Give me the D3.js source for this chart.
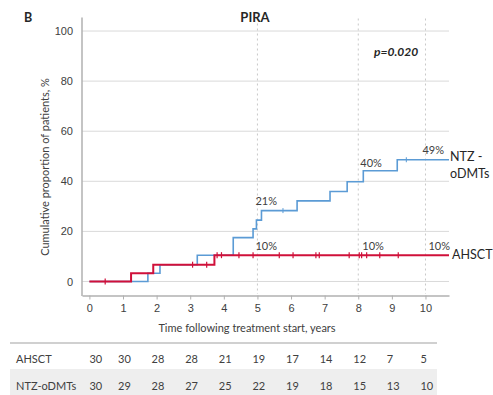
<!DOCTYPE html>
<html><head><meta charset="utf-8">
<script src="https://cdn.jsdelivr.net/npm/d3@7"></script>
<style>
body{margin:0;background:#fff;}
svg{display:block;font-family:Lato,"Open Sans",sans-serif;}
</style></head>
<body><svg id="c" width="493" height="395"></svg>
<script>
// ---- data ----
const yTicks = [0, 20, 40, 60, 80, 100];
const xTicks = [0,1,2,3,4,5,6,7,8,9,10];
const refYears = [5, 8, 10];
const ahsctTimes = [0, 1.24, 1.9, 3.72];
const ahsctValues = [0, 3.3, 6.7, 10.5];
const ahsctCensor = [0.47, 3.07, 3.49, 3.8, 3.93, 4.45, 4.87, 5.65, 6.06, 6.74, 6.84, 7.73, 8.03, 8.1, 8.25, 8.64, 9.19];
const ntzTimes = [0, 1.74, 2.1, 3.21, 4.28, 4.87, 4.97, 5.12, 6.18, 7.16, 7.67, 8.15, 9.16];
const ntzValues = [0, 3.3, 6.7, 10.5, 17.5, 21, 24.5, 28.3, 32.2, 35.9, 39.8, 44.2, 48.6];
const ntzCensor = [5.76, 9.43];
const ntzLabels = [{t:5, v:21, text:"21%"}, {t:8, v:40, text:"40%"}, {t:10, v:49, text:"49%"}];
const ahsctLabels = [{t:5, v:10, text:"10%"}, {t:8, v:10, text:"10%"}, {t:10, v:10, text:"10%"}];
const riskYears = [0,1,2,3,4,5,6,7,8,9,10];
const riskAHSCT = [30, 30, 28, 28, 21, 19, 17, 14, 12, 7, 5];
const riskNTZ = [30, 29, 28, 27, 25, 22, 19, 18, 15, 13, 10];
const tMax = 10.7;

// ---- chart ----
const svg = d3.select("#c");
const x = d3.scaleLinear().domain([-0.22, 10.7]).range([82, 449]);
const y = d3.scaleLinear().domain([-5, 105]).range([294, 18.5]);
const blue = "#5b9bd5", red = "#d0103a", txt = "#404040";

// gridlines
svg.append("g").selectAll("line").data(yTicks).join("line")
  .attr("x1", x.range()[0]).attr("x2", x.range()[1])
  .attr("y1", d => y(d)).attr("y2", d => y(d))
  .attr("stroke", "#d9d9d9").attr("stroke-width", 1);
svg.append("g").selectAll("line").data(refYears).join("line")
  .attr("x1", d => x(d)).attr("x2", d => x(d))
  .attr("y1", y(105)).attr("y2", y(-5))
  .attr("stroke", "#c8c8c8").attr("stroke-width", 1).attr("stroke-dasharray", "2,3");

// axes
const xAxis = svg.append("g").attr("transform", `translate(0,${y(-5)+1.5})`)
  .call(d3.axisBottom(x).tickValues(xTicks).tickSize(4).tickSizeOuter(0));
xAxis.select(".domain").attr("stroke", "#b0b0b0").attr("stroke-width", 1.5);
xAxis.selectAll(".tick line").attr("stroke", "#b0b0b0");
xAxis.selectAll("text").attr("fill", txt).attr("font-size", 11).attr("dy", "0.9em").attr("y", 7);

const yAxis = svg.append("g").attr("transform", `translate(${x(-0.22)},0)`)
  .call(d3.axisLeft(y).tickValues(yTicks).tickSize(0).tickSizeOuter(0));
yAxis.select(".domain").attr("stroke", "#b0b0b0").attr("stroke-width", 1.5)
  .attr("d", `M0,${y(-5)+2}V${y(105)-1}`);
yAxis.selectAll("text").attr("fill", txt).attr("font-size", 11).attr("x", -9);

// step lines
function stepPath(times, vals) {
  const pts = times.map((t, i) => [t, vals[i]]);
  pts.push([tMax, vals[vals.length - 1]]);
  return d3.line().x(d => x(d[0])).y(d => y(d[1])).curve(d3.curveStepAfter)(pts);
}
function valueAt(times, vals, t) {
  let v = vals[0];
  times.forEach((tt, i) => { if (tt <= t) v = vals[i]; });
  return v;
}
svg.append("path").attr("d", stepPath(ntzTimes, ntzValues))
  .attr("fill", "none").attr("stroke", blue).attr("stroke-width", 1.6);
svg.append("g").selectAll("line").data(ntzCensor).join("line")
  .attr("x1", d => x(d)).attr("x2", d => x(d))
  .attr("y1", d => y(valueAt(ntzTimes, ntzValues, d)) - 2.5)
  .attr("y2", d => y(valueAt(ntzTimes, ntzValues, d)) + 2.5)
  .attr("stroke", blue).attr("stroke-width", 1);
svg.append("path").attr("d", stepPath(ahsctTimes, ahsctValues))
  .attr("fill", "none").attr("stroke", red).attr("stroke-width", 2);
svg.append("g").selectAll("line").data(ahsctCensor).join("line")
  .attr("x1", d => x(d)).attr("x2", d => x(d))
  .attr("y1", d => y(valueAt(ahsctTimes, ahsctValues, d)) - 3)
  .attr("y2", d => y(valueAt(ahsctTimes, ahsctValues, d)) + 3)
  .attr("stroke", red).attr("stroke-width", 1.2);

// annotations
svg.append("g").selectAll("text").data(ntzLabels).join("text")
  .attr("x", d => x(d.t) + (d.t === 10 ? -3 : d.t === 8 ? 2 : -2))
  .attr("y", d => y(d.v) - (d.t === 5 ? 24 : d.t === 8 ? 14 : 5))
  .attr("font-size", 11).attr("fill", txt).text(d => d.text);
svg.append("g").selectAll("text").data(ahsctLabels).join("text")
  .attr("x", d => x(d.t) + (d.t === 5 ? -2 : d.t === 8 ? 4 : 3))
  .attr("y", d => y(d.v) - 6)
  .attr("font-size", 11).attr("fill", txt).text(d => d.text);

svg.append("text").attr("x", 450).attr("y", 161).attr("font-size", 12.5).attr("fill", "#262626").text("NTZ -");
svg.append("text").attr("x", 450).attr("y", 178).attr("font-size", 12.5).attr("fill", "#262626").text("oDMTs");
svg.append("text").attr("x", 452).attr("y", 259).attr("font-size", 12.5).attr("fill", "#262626").text("AHSCT");

svg.append("text").attr("x", 374).attr("y", 56).attr("font-size", 12).attr("font-weight", "bold")
  .attr("font-style", "italic").attr("fill", "#262626").text("p=0.020");

// titles
svg.append("text").attr("x", 255).attr("y", 22).attr("text-anchor", "middle")
  .attr("font-size", 13).attr("font-weight", "bold").attr("fill", "#262626").text("PIRA");
svg.append("text").attr("x", 24).attr("y", 22)
  .attr("font-size", 12.5).attr("font-weight", "bold").attr("fill", "#262626").text("B");
svg.append("text").attr("transform", "translate(49,167) rotate(-90)").attr("text-anchor", "middle")
  .attr("font-size", 11).attr("fill", txt).text("Cumulative proportion of patients, %");
svg.append("text").attr("x", 247).attr("y", 332).attr("text-anchor", "middle")
  .attr("font-size", 11).attr("fill", txt).text("Time following treatment start, years");

// risk table
svg.append("line").attr("x1", 10).attr("x2", 437).attr("y1", 343).attr("y2", 343)
  .attr("stroke", "#d0d0d0").attr("stroke-width", 2);
svg.append("rect").attr("x", 10).attr("y", 369).attr("width", 427).attr("height", 26).attr("fill", "#eeeeee");
const rows = [{name: "AHSCT", vals: riskAHSCT, yy: 363}, {name: "NTZ-oDMTs", vals: riskNTZ, yy: 390}];
rows.forEach(r => {
  svg.append("text").attr("x", 16).attr("y", r.yy).attr("font-size", 11).attr("fill", txt).text(r.name);
  svg.append("g").selectAll("text").data(r.vals).join("text")
    .attr("x", (d, i) => x(riskYears[i]) + (i === 0 ? 0 : -5))
    .attr("y", r.yy).attr("font-size", 11).attr("fill", txt).text(d => d);
});
</script></body></html>
